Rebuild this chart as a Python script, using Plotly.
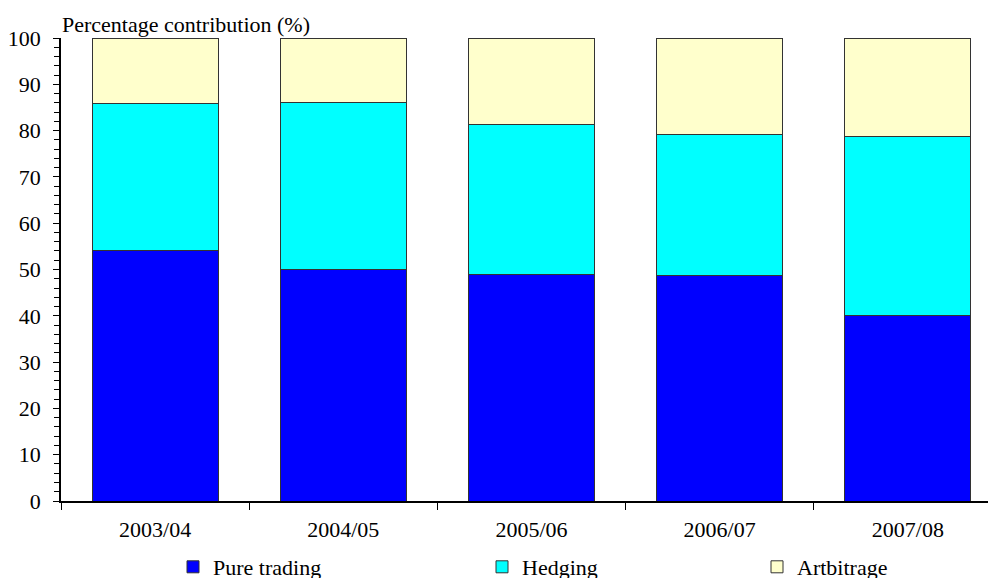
import plotly.graph_objects as go

years = ["2003/04", "2004/05", "2005/06", "2006/07", "2007/08"]
pure_trading = [54.0, 50.0, 49.0, 48.7, 40.1]
hedging = [31.9, 36.1, 32.4, 30.4, 38.7]
arbitrage = [14.1, 13.9, 18.6, 20.9, 21.2]

series = [
    ("Pure trading", pure_trading, "#0000FF", None),
    ("Hedging", hedging, "#00FFFF", "legend2"),
    ("Artbitrage", arbitrage, "#FFFFCC", "legend3"),
]

FONT = "Liberation Serif"
W, H = 988, 578
L, R, T, B = 61, 0, 38, 77

fig = go.Figure()
for name, vals, col, lg in series:
    kw = dict(legend=lg) if lg else {}
    fig.add_trace(go.Bar(
        x=years, y=vals, name=name, showlegend=True,
        marker=dict(color=col, line=dict(color="#333333", width=1)),
        **kw,
    ))

def lx(px):
    return (px - L) / (W - L - R)

legend_common = dict(
    orientation="h", yref="container", y=(H - 567) / H, yanchor="middle",
    xanchor="left", font=dict(family=FONT, size=22, color="black"),
    bgcolor="rgba(0,0,0,0)",
)
fig.update_layout(
    width=W, height=H,
    margin=dict(l=L, r=R, t=T, b=B),
    paper_bgcolor="white", plot_bgcolor="white",
    barmode="stack", bargap=0.33,
    font=dict(family=FONT, size=22, color="black"),
    showlegend=True,
    legend=dict(x=lx(173), **legend_common),
    legend2=dict(x=lx(482), **legend_common),
    legend3=dict(x=lx(757), **legend_common),
    xaxis=dict(
        type="category", range=[-0.5, 4.426],
        showline=True, linecolor="black", linewidth=1.5,
        ticks="outside", ticklen=7, tickcolor="black", tickwidth=1,
        tickson="boundaries", showgrid=False, zeroline=False,
        tickfont=dict(family=FONT, size=22), ticklabelstandoff=8,
    ),
    yaxis=dict(
        range=[0, 100], dtick=10, tick0=0,
        showline=True, linecolor="black", linewidth=1.5,
        ticks="outside", ticklen=6, tickcolor="black", tickwidth=1,
        minor=dict(dtick=2, ticks="outside", ticklen=5, tickcolor="black", tickwidth=1, showgrid=False),
        showgrid=False, zeroline=False,
        tickfont=dict(family=FONT, size=22), ticklabelstandoff=8,
    ),
    annotations=[dict(
        text="Percentage contribution (%)", xref="paper", yref="paper",
        x=lx(60), y=(H - 24 - B) / (H - T - B), xanchor="left", yanchor="middle",
        showarrow=False, font=dict(family=FONT, size=22, color="black"),
    )],
)

fig.write_html("out.html")
